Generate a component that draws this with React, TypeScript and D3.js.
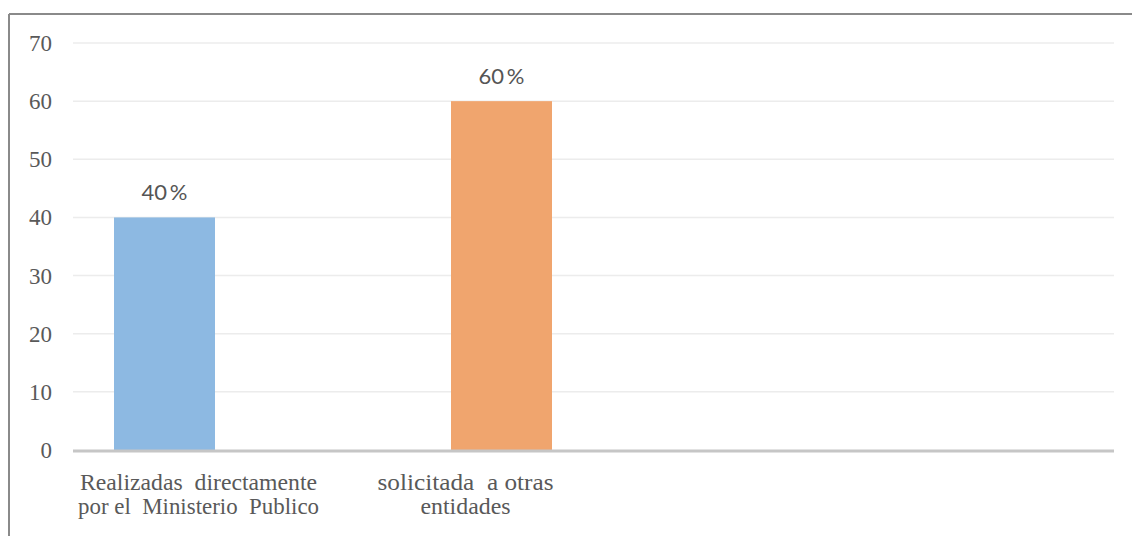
import React from "react";
import * as d3 from "d3";

const categories = ["Realizadas directamente por el Ministerio Publico", "solicitada a otras entidades"];
const labelLines = [
  ["Realizadas  directamente", "por el  Ministerio  Publico"],
  ["solicitada  a otras", "entidades"],
];
const values = [40, 60];
const valueLabels = ["40\u2009%", "60\u2009%"];
const barColors = ["#8db9e2", "#f0a56e"];
const yTicks = [0, 10, 20, 30, 40, 50, 60, 70];

const W = 1132;
const H = 536;
const plotLeft = 73;
const plotRight = 1114;
const y0 = 450;
const yTop = 43;
const barWidth = 101;
const labelCenterOffsets = [34, -36];
const labelWidths = [
  [237, 241],
  [176, 90],
];

export default function App() {
  const y = d3.scaleLinear().domain([0, 70]).range([y0, yTop]);
  const x = d3.scalePoint<string>().domain(categories).range([164.5, 501.5]);
  const serif = "'Liberation Serif', 'Times New Roman', serif";
  const sans = "Lato, 'Open Sans', sans-serif";
  return (
    <svg width={W} height={H} style={{ position: "absolute", left: 0, top: 0, background: "#fff" }}>
      <rect x={0} y={0} width={W} height={H} fill="#fff" />
      <line x1={9} y1={14} x2={W + 5} y2={14} stroke="#8a8a8a" strokeWidth={2} />
      <line x1={9} y1={14} x2={9} y2={H + 5} stroke="#8a8a8a" strokeWidth={2} />
      {yTicks.map((t) =>
        t === 0 ? null : (
          <line key={"g" + t} x1={plotLeft} x2={plotRight} y1={y(t)} y2={y(t)} stroke="#ececec" strokeWidth={1.5} />
        )
      )}
      {yTicks.map((t) => (
        <text key={"t" + t} x={52} y={y(t) + 8} textAnchor="end" fontFamily={serif} fontSize={23} fill="#595959">
          {t}
        </text>
      ))}
      {categories.map((c, i) => (
        <rect key={c} x={x(c)! - barWidth / 2} y={y(values[i])} width={barWidth} height={y0 - y(values[i])} fill={barColors[i]} />
      ))}
      <line x1={plotLeft} x2={plotRight} y1={y0 + 1} y2={y0 + 1} stroke="#c6c6c6" strokeWidth={3} />
      {categories.map((c, i) => (
        <text key={"v" + c} x={x(c)!} y={y(values[i]) - 17.5} textAnchor="middle" fontFamily={sans} fontSize={22} fill="#555">
          {valueLabels[i]}
        </text>
      ))}
      {categories.map((c, i) =>
        labelLines[i].map((ln, j) => (
          <text
            key={"l" + i + j}
            x={x(c)! + labelCenterOffsets[i]}
            y={490 + j * 23.5}
            textAnchor="middle"
            fontFamily={serif}
            fontSize={22.5}
            fill="#595959"
            textLength={labelWidths[i][j]}
            lengthAdjust="spacingAndGlyphs"
            style={{ whiteSpace: "pre" }}
          >
            {ln}
          </text>
        ))
      )}
    </svg>
  );
}
